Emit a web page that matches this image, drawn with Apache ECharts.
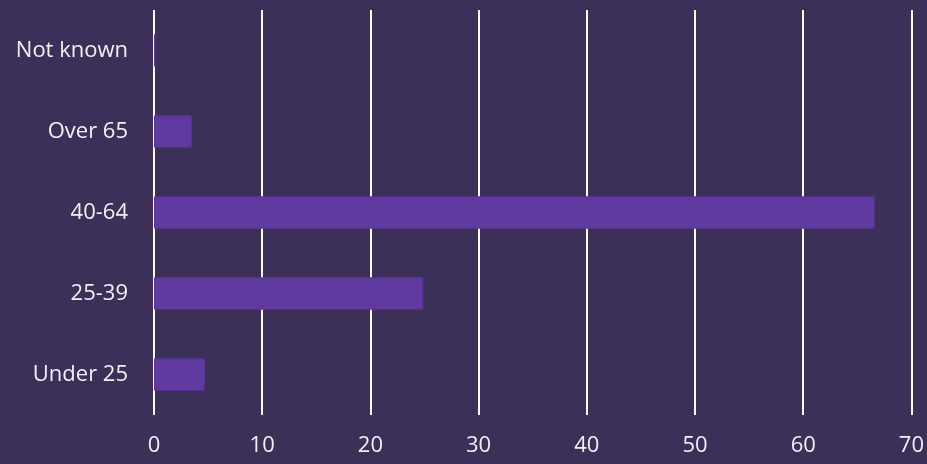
<!DOCTYPE html>
<html>
<head>
<meta charset="utf-8">
<script src="https://cdn.jsdelivr.net/npm/echarts@6/dist/echarts.min.js"></script>
<style>
  html, body { margin: 0; padding: 0; background: #3c2f58; }
  #chart { width: 927px; height: 464px; }
</style>
</head>
<body>
<div id="chart"></div>
<script>
// age bands, bottom to top
const categories = ['Under 25', '25-39', '40-64', 'Over 65', 'Not known'];
const values = [4.7, 24.9, 66.6, 3.5, 0.15];

const myChart = echarts.init(document.getElementById('chart'));
const option = {
  backgroundColor: '#3c2f58',
  animation: false,
  grid: { left: 154, right: 15, top: 10, bottom: 49 },
  xAxis: {
    type: 'value',
    min: 0,
    max: 70,
    interval: 10,
    axisLine: { show: false },
    axisTick: { show: false },
    axisLabel: {
      color: '#f2f0f5',
      fontFamily: 'Open Sans',
      fontSize: 22,
      margin: 20
    },
    splitLine: { lineStyle: { color: '#ffffff', width: 2 } }
  },
  yAxis: {
    type: 'category',
    data: categories,
    axisLine: { show: false },
    axisTick: { show: false },
    axisLabel: {
      color: '#f2f0f5',
      fontFamily: 'Open Sans',
      fontSize: 22,
      margin: 26
    }
  },
  series: [
    {
      type: 'bar',
      data: values,
      barWidth: '40%',
      itemStyle: { color: '#613aa1', borderColor: '#583594', borderWidth: 1 }
    }
  ]
};
myChart.setOption(option);
</script>
</body>
</html>
